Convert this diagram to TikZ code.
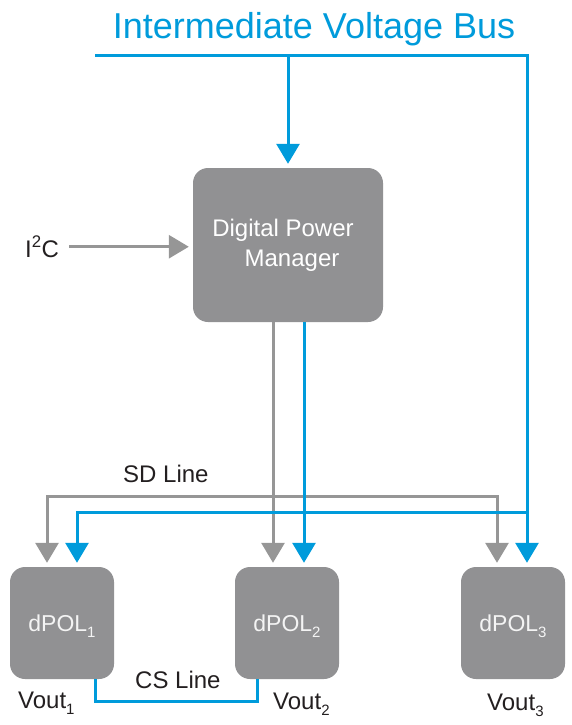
\documentclass[tikz,border=0pt]{standalone}
\usepackage{fontspec}
\setmainfont{Liberation Sans}
\usetikzlibrary{arrows.meta}

\definecolor{busblue}{RGB}{0,155,219}
\definecolor{boxgray}{RGB}{145,145,147}
\definecolor{linegray}{RGB}{150,150,150}
\definecolor{ink}{RGB}{35,31,32}

\newcommand{\lowidx}[1]{\raisebox{-6pt}{\fontsize{15}{15}\selectfont #1}}

\begin{document}
\begin{tikzpicture}[x=1pt,y=-1pt,>={Triangle[length=20pt,width=23pt]},shorten >=4pt,
	block/.style={fill=boxgray,rounded corners=15pt,inner sep=0pt},
	pol/.style={block,minimum width=104pt,minimum height=112pt,text depth=0pt,text=white!90!boxgray,font=\fontsize{23}{27}\selectfont},
	bus/.style={busblue,line width=3pt},
	sig/.style={linegray,line width=3pt},
	lbl/.style={anchor=base west,text=ink,inner sep=0pt,font=\fontsize{24}{28}\selectfont}]
	\useasboundingbox (0,0) rectangle (572,725);

	% blocks
	\node[anchor=base,text=busblue,inner sep=0pt,font=\fontsize{36}{40}\selectfont] (title) at (314,38) {Intermediate Voltage Bus};
	\node[block,minimum width=190pt,minimum height=154pt,text=white,align=center,font=\fontsize{24}{30}\selectfont] (dpm) at (288,245) {Digital Power\hspace*{10pt}\\\hspace*{8pt}Manager};
	\node[pol] (pol1) at (62,623) {dPOL\lowidx{1}};
	\node[pol] (pol2) at (287,623) {dPOL\lowidx{2}};
	\node[pol] (pol3) at (513,623) {dPOL\lowidx{3}};

	% labels
	\node[lbl] (i2c) at (25,257) {I\textsuperscript{2}C};
	\node[lbl] (sdlbl) at (123,482) {SD Line};
	\node[lbl] (cslbl) at (135,688) {CS Line};
	\node[lbl] (vout1) at (18,708) {Vout\lowidx{1}};
	\node[lbl] (vout2) at (273,709) {Vout\lowidx{2}};
	\node[lbl] (vout3) at (487,710) {Vout\lowidx{3}};

	% inputs of the dPOLs
	\coordinate (g1) at ([xshift=-15pt]pol1.north);
	\coordinate (b1) at ([xshift=15pt]pol1.north);
	\coordinate (g2) at ([xshift=-14pt]pol2.north);
	\coordinate (b2) at ([xshift=17pt]pol2.north);
	\coordinate (g3) at ([xshift=-16pt]pol3.north);
	\coordinate (b3) at ([xshift=14pt]pol3.north);
	\coordinate (busL) at (95,56);
	\coordinate (sd) at (0,496);
	\coordinate (pw) at (0,512);
	\coordinate (cs1) at (95,701);
	\coordinate (cs2) at (257,701);

	% gray lines
	\draw[sig,->] ([xshift=10pt]i2c.east) -- (i2c.east -| dpm.west);
	\draw[sig,->] (dpm.south -| g2) -- (g2);
	\draw[sig,<->,shorten <=4pt] (g1) -- (g1 |- sd) -| (g3);

	% blue lines
	\draw[bus,->] (busL) -| (b3);
	\draw[bus,->] (busL -| dpm.north) -- (dpm.north);
	\draw[bus,->] (dpm.south -| b2) -- (b2);
	\draw[bus,->] (b3 |- pw) -| (b1);
	\draw[bus,shorten >=0pt] (pol1.south -| cs1) |- (cs2) -- (pol2.south -| cs2);
\end{tikzpicture}
\end{document}
